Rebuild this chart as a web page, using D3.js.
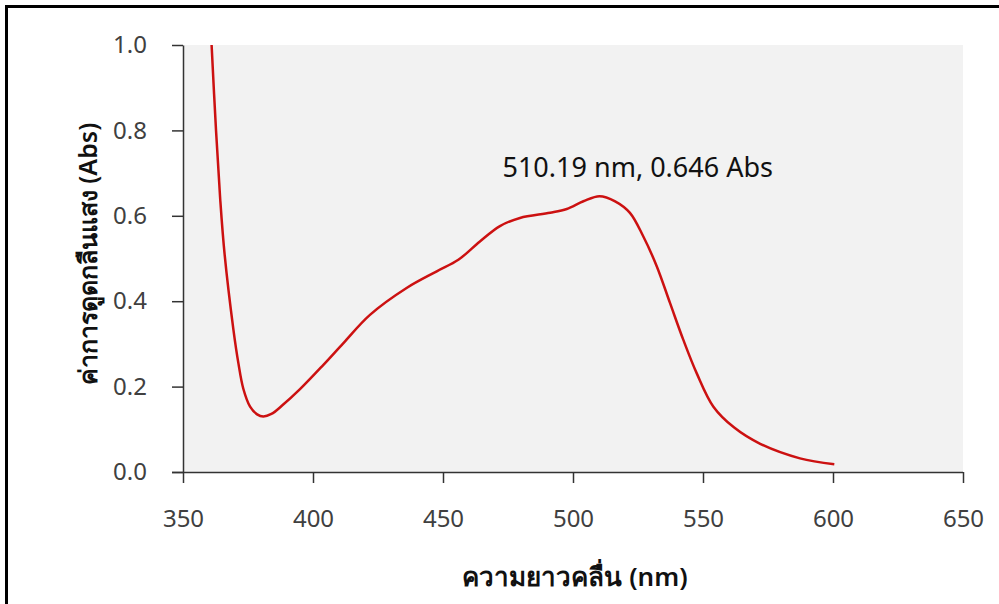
<!DOCTYPE html>
<html>
<head>
<meta charset="utf-8">
<script src="https://cdn.jsdelivr.net/npm/d3@7"></script>
<style>
  body { margin: 0; background: #fff; }
  svg { display: block; font-family: "Noto Sans", "Open Sans", sans-serif; }
</style>
</head>
<body>
<div id="chart"></div>
<script>
// absorbance spectrum
const wavelength = [361, 362.7, 364.3, 366.0, 369.4, 371.3, 373.2, 375.8, 378.5, 380.9, 384, 388, 395, 404, 411.7, 421.9, 436, 447.6, 455.9, 464.2, 471.9, 479.6, 491.2, 497.6, 504, 510.19, 516.2, 521.9, 527, 532.2, 537.3, 542.4, 547.6, 554, 562, 572, 587.3, 600.5];
const absorbance = [1.0, 0.80, 0.64, 0.51, 0.333, 0.255, 0.195, 0.153, 0.135, 0.13, 0.136, 0.155, 0.194, 0.251, 0.302, 0.368, 0.431, 0.47, 0.497, 0.54, 0.576, 0.595, 0.607, 0.616, 0.634, 0.646, 0.634, 0.607, 0.552, 0.482, 0.396, 0.31, 0.231, 0.153, 0.104, 0.066, 0.032, 0.018];
const xTicks = [350, 400, 450, 500, 550, 600, 650];
const yTicks = [0, 0.2, 0.4, 0.6, 0.8, 1.0];
const peakLabel = "510.19 nm, 0.646 Abs";
const peak = { nm: 510.19, abs: 0.646 };

const W = 999, H = 604;
const margin = { top: 45, right: 36, bottom: 132, left: 183 },
    width = W - margin.left - margin.right,
    height = H - margin.top - margin.bottom;

const svg = d3.select("#chart").append("svg")
    .attr("width", W)
    .attr("height", H);

// frame lines (top and left only are visible)
svg.append("line").attr("x1", 6).attr("x2", W).attr("y1", 6.5).attr("y2", 6.5)
    .attr("stroke", "#000").attr("stroke-width", 3);
svg.append("line").attr("x1", 6.5).attr("x2", 6.5).attr("y1", 5).attr("y2", H)
    .attr("stroke", "#000").attr("stroke-width", 3);

const g = svg.append("g")
    .attr("transform", "translate(" + margin.left + "," + margin.top + ")");

const x = d3.scaleLinear().domain([350, 650]).range([0, width]);
const y = d3.scaleLinear().domain([0, 1]).range([height, 0]);

// plot background
g.append("rect")
    .attr("width", width)
    .attr("height", height)
    .attr("fill", "#f2f2f2");

const data = wavelength.map((w, i) => ({ nm: w, abs: absorbance[i] }));

const line = d3.line()
    .x(d => x(d.nm))
    .y(d => y(d.abs))
    .curve(d3.curveCatmullRom.alpha(0.5));

g.append("path")
    .datum(data)
    .attr("fill", "none")
    .attr("stroke", "#cc1111")
    .attr("stroke-width", 2.5)
    .attr("d", line);

// axes
const xAxis = g.append("g")
    .attr("transform", "translate(0," + height + ")")
    .call(d3.axisBottom(x).tickValues(xTicks).tickSize(11).tickPadding(27).tickSizeOuter(0));
const yAxis = g.append("g")
    .call(d3.axisLeft(y).tickValues(yTicks).tickFormat(d3.format(".1f")).tickSize(11).tickPadding(25).tickSizeOuter(0));

[xAxis, yAxis].forEach(a => {
    a.select(".domain").attr("stroke", "#333").attr("stroke-width", 1.5);
    a.selectAll(".tick line").attr("stroke", "#333").attr("stroke-width", 1.5);
    a.selectAll("text")
        .attr("fill", "#404040")
        .style("font-family", "'Noto Sans', sans-serif")
        .style("font-size", "24px");
});
// extend the x axis line to the 0.0 tick
xAxis.select(".domain").attr("d", "M-11,0.5H" + width);

// peak label
g.append("text")
    .attr("x", x(peak.nm) - 97)
    .attr("y", y(peak.abs) - 19)
    .attr("fill", "#111")
    .style("font-size", "27px")
    .text(peakLabel);

// axis titles
svg.append("text")
    .attr("x", 575)
    .attr("y", 586)
    .attr("text-anchor", "middle")
    .attr("fill", "#111")
    .style("font-size", "26px")
    .style("font-weight", "600")
    .text("ความยาวคลื่น (nm)");

svg.append("text")
    .attr("transform", "translate(97,254) rotate(-90)")
    .attr("text-anchor", "middle")
    .attr("fill", "#111")
    .style("font-size", "25px")
    .style("font-weight", "600")
    .text("ค่าการดูดกลืนแสง (Abs)");
</script>
</body>
</html>
